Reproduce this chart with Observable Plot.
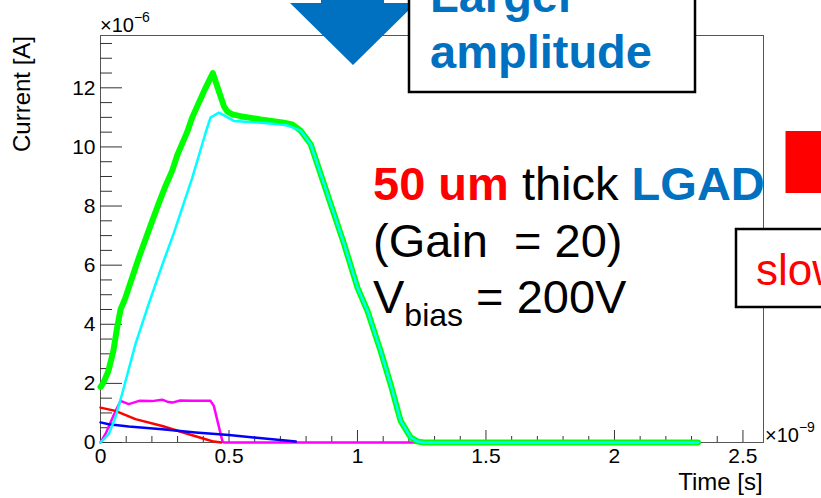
<!DOCTYPE html>
<html><head><meta charset="utf-8">
<script src="https://cdn.jsdelivr.net/npm/d3@7"></script>
<script src="https://cdn.jsdelivr.net/npm/@observablehq/plot@0.6"></script>
<style>
body{margin:0;background:#fff;}
#chart{position:relative;width:821px;height:498px;overflow:hidden;}
</style>
</head><body><div id="chart"></div>
<script>
// ---- data (time in 1e-9 s, current in 1e-6 A) ----
const totalT = [0,0.01,0.03,0.05,0.065,0.078,0.095,0.11,0.149,0.201,0.227,0.253,0.279,0.3,0.337,0.357,0.409,0.437,0.46,0.48,0.493,0.513,0.545,0.623,0.714,0.746,0.779,0.818,0.883,0.948,1.0,1.039,1.09,1.129,1.168,1.207,1.235,1.26,2.325];
const totalI = [1.88,2.0,2.4,3.1,3.9,4.5,4.85,5.24,6.25,7.49,8.1,8.68,9.2,9.75,10.5,11.0,12.0,12.5,11.9,11.38,11.2,11.1,11.04,10.93,10.82,10.76,10.55,10.09,8.4,6.71,5.24,4.45,3.1,1.97,0.73,0.17,0.03,0.0,0.0];
const gainT = [0,0.007,0.032,0.058,0.084,0.136,0.188,0.24,0.286,0.357,0.409,0.428,0.461,0.519,0.649,0.727,0.779,0.818,0.883,0.948,1.0,1.039,1.09,1.129,1.168,1.207,1.235,1.26,2.325];
const gainI = [0,0.06,0.28,0.85,1.64,3.33,4.7,6.0,7.1,8.95,10.48,10.99,11.16,10.88,10.8,10.73,10.55,10.09,8.4,6.71,5.24,4.45,3.1,1.97,0.73,0.17,0.03,0.0,0.0];
const holesT = [0,0.02,0.05,0.078,0.11,0.15,0.2,0.24,0.26,0.279,0.31,0.357,0.428,0.441,0.474,0.48,2.325];
const holesI = [0,0.3,0.9,1.41,1.3,1.41,1.4,1.45,1.38,1.35,1.42,1.41,1.41,1.24,0.06,0,0];
const elecT = [0,0.058,0.136,0.24,0.344,0.409,0.441,0.47];
const elecI = [1.18,1.07,0.79,0.56,0.28,0.11,0.03,0];
const primT = [0,0.032,0.11,0.24,0.37,0.5,0.669,0.76];
const primI = [0.68,0.62,0.54,0.45,0.34,0.25,0.11,0.03];

const xMajor = [0,0.5,1,1.5,2,2.5];
const xMinor = d3.range(0,2.58,0.1).map(d=>+d.toFixed(2)).filter(d=>!xMajor.includes(d));
const yMajor = [0,2,4,6,8,10,12];
const yMinor = d3.range(0,13.77,0.5).filter(d=>!yMajor.includes(d));

const W=821,H=498,mL=100,mT=35,mR=58,mB=56;
const plotW=W-mL-mR, plotH=H-mT-mB;
const rows=(ts,vs)=>ts.map((t,i)=>({t,v:vs[i]}));
const FONT="'Liberation Sans', Arial, Helvetica, sans-serif";

const chart = Plot.plot({
  width:W,height:H,marginLeft:mL,marginTop:mT,marginRight:mR,marginBottom:mB,
  x:{domain:[0,2.58]}, y:{domain:[0,13.77]},
  style:{fontFamily:FONT,background:"white",color:"black"},
  marks:[
    Plot.frame({stroke:"#555"}),
    Plot.tickX(xMinor,{x:d=>d,insetTop:plotH-6,stroke:"#333"}),
    Plot.tickX(xMajor,{x:d=>d,insetTop:plotH-12,stroke:"#333"}),
    Plot.tickY(yMinor,{y:d=>d,insetRight:plotW-12,stroke:"#333"}),
    Plot.tickY(yMajor,{y:d=>d,insetRight:plotW-22,stroke:"#333"}),
    Plot.axisX({ticks:xMajor,tickSize:0,tickPadding:6,fontSize:21,tickFormat:d=>String(d),label:null}),
    Plot.axisY({ticks:yMajor,tickSize:0,tickPadding:5,fontSize:21,tickFormat:d=>String(d),label:null}),
    Plot.line(rows(holesT,holesI),{x:"t",y:"v",stroke:"#ff00ff",strokeWidth:2.5,strokeLinejoin:"round"}),
    Plot.line(rows(elecT,elecI),{x:"t",y:"v",stroke:"#ff0000",strokeWidth:2.5,strokeLinejoin:"round"}),
    Plot.line(rows(primT,primI),{x:"t",y:"v",stroke:"#0000ff",strokeWidth:2.5,strokeLinejoin:"round"}),
    Plot.line(rows(totalT,totalI),{x:"t",y:"v",stroke:"#00ff00",strokeWidth:6,strokeLinejoin:"round"}),
    Plot.line(rows(gainT,gainI),{x:"t",y:"v",stroke:"#00ffff",strokeWidth:2.5,strokeLinejoin:"round"})
  ]
});
document.getElementById("chart").appendChild(chart);

const svg=d3.select(chart);
// enlarge Plot's own tick labels (the only texts so far)
svg.selectAll("text").style("font-size","21px");

const addText=(x,y,parts,anchor="start")=>{
  const t=svg.append("text").attr("x",x).attr("y",y).attr("text-anchor",anchor)
    .style("font-family",FONT).style("white-space","pre");
  parts.forEach(p=>{
    const s=t.append("tspan").text(p.s).style("font-size",p.size+"px").attr("fill",p.fill||"black");
    if(p.bold) s.style("font-weight","bold");
    if(p.dy!=null) s.attr("dy",p.dy);
  });
  return t;
};
// axis titles and multipliers
svg.append("text").attr("transform","translate(30,94) rotate(-90)").attr("text-anchor","middle")
  .style("font-family",FONT).style("font-size","24px").text("Current [A]");
addText(762.7,490,[{s:"Time [s]",size:24}],"end");
addText(100,32,[{s:"×10",size:20},{s:"−6",size:14,dy:-10}]);
addText(765,442,[{s:"×10",size:20},{s:"−9",size:14,dy:-10}]);

// slide annotations
const BLUE="#0070C0";
svg.append("polygon").attr("points","321,-2 384,-2 384,3 416,3 353,65 290,3 321,3").attr("fill",BLUE);
svg.append("rect").attr("x",409).attr("y",-5).attr("width",286).attr("height",97)
  .attr("fill","white").attr("stroke","black").attr("stroke-width",2.5);
addText(430,12,[{s:"Larger",size:47,bold:true,fill:BLUE}]);
addText(430,68,[{s:"amplitude",size:47,bold:true,fill:BLUE}]);
addText(373,200,[{s:"50 um",size:47,bold:true,fill:"#ff0000"},{s:" thick ",size:47},{s:"LGAD",size:47,bold:true,fill:BLUE}]);
addText(373,257,[{s:"(Gain  = 20)",size:47}]);
addText(373,313,[{s:"V",size:47},{s:"bias",size:32,dy:13},{s:" = 200V",size:47,dy:-13}]);
svg.append("rect").attr("x",785.5).attr("y",131).attr("width",60).attr("height",62).attr("fill","#ff0000");
svg.append("rect").attr("x",736).attr("y",229).attr("width",120).attr("height",78)
  .attr("fill","white").attr("stroke","black").attr("stroke-width",2.5);
addText(756,285,[{s:"slow",size:44,fill:"#ff0000"}]);
</script>
</body></html>
